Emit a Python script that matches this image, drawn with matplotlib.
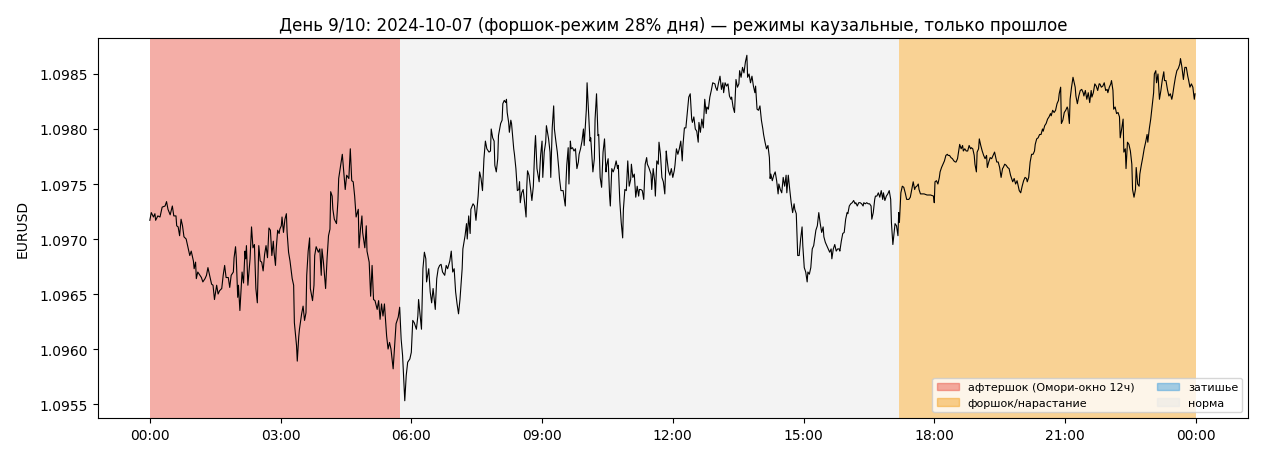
import numpy as np
import pandas as pd
import matplotlib
matplotlib.use("Agg")
import matplotlib.pyplot as plt
import matplotlib.dates as mdates
from matplotlib.patches import Patch

# день и минутные котировки (минуты от полуночи, цена)
day = "2024-10-07"
minute = [
    0, 2, 5, 7, 8, 11, 14, 17, 21, 23, 25, 28, 31, 33, 36, 37, 39, 41, 43, 45,
    47, 50, 53, 55, 57, 60, 61, 63, 64, 66, 69, 71, 73, 76, 78, 80, 83, 85, 87, 89,
    92, 94, 96, 99, 101, 103, 105, 108, 110, 112, 115, 116, 118, 119, 121, 122, 124, 126, 127, 129,
    131, 132, 133, 135, 138, 140, 142, 144, 146, 148, 149, 150, 152, 154, 156, 158, 160, 162, 164, 166,
    168, 170, 171, 173, 174, 176, 178, 179, 181, 182, 184, 186, 188, 189, 191, 193, 196, 198, 199, 202,
    203, 205, 206, 209, 211, 213, 215, 216, 218, 220, 221, 224, 226, 227, 229, 232, 234, 236, 237, 239,
    242, 244, 246, 248, 249, 251, 252, 254, 257, 259, 260, 262, 265, 267, 269, 271, 274, 276, 278, 280,
    282, 284, 287, 288, 290, 292, 293, 296, 298, 299, 302, 304, 306, 308, 310, 313, 315, 317, 319, 321,
    323, 326, 328, 330, 332, 335, 337, 339, 342, 344, 346, 348, 351, 353, 355, 358, 360, 362, 364, 367,
    369, 370,
    374, 376, 378, 380, 381, 384, 386, 388, 390, 393, 395, 397, 399, 401, 403, 406, 408, 410, 413, 415,
    417, 419, 421, 423, 425, 427, 430, 431, 434, 436, 437, 439, 441, 442, 445, 447, 449, 452, 454, 456,
    458, 460, 462, 464, 467, 469, 470, 472, 474, 475, 477, 479, 480, 483, 485, 486, 488, 490, 491, 492,
    494, 495, 497, 498, 501, 502, 504, 506, 508, 509, 510, 512, 514, 516, 518, 519, 520, 522, 524, 526,
    528, 530, 531, 533, 535, 536, 538, 540, 541, 543, 545, 546, 549, 551, 552, 554, 556, 557, 559, 561,
    563, 564, 566, 569, 570, 572, 573, 574, 576, 577, 579, 580, 582, 584, 586, 588, 590, 591, 593, 595,
    597, 598, 601, 602, 604, 606, 607, 610, 612, 613, 615, 617, 618, 620, 622, 624, 626, 628, 629, 631,
    633, 634, 636, 638, 640, 642, 644, 645, 647, 649, 651, 652, 654, 656, 658, 660, 662, 663, 665, 667,
    669, 671, 673, 674, 676, 678, 680, 682, 684, 685, 687, 690, 691, 693, 695, 696, 698, 700, 701, 703,
    705, 707, 709, 711, 712, 714, 716, 718, 720, 722, 723, 725, 727, 729, 731, 733, 734, 736, 738, 740,
    742,
    744, 746, 747, 749, 751, 753, 755, 756, 758, 760, 762, 764, 766, 767, 769, 771, 773, 775, 778, 779,
    781, 783, 785, 787, 789, 790, 792, 794, 796, 798, 800, 801, 803, 805, 807, 809, 811, 812, 814, 816,
    818, 820, 822, 823, 825, 827, 829, 831, 833, 834, 836, 838, 840, 842, 844, 845, 847, 849, 851, 853,
    854, 855, 857, 859, 861, 863, 865, 866, 868, 870, 872, 874, 876, 877, 879, 881, 883, 885, 887, 888,
    890, 892, 894, 896, 898, 899, 901, 903, 905, 906, 908, 910, 912, 914, 916, 917, 919, 921, 923, 925,
    927, 928, 930, 932, 934, 936, 938, 939, 941, 943, 945, 947, 949, 950, 952, 954, 956, 958, 960, 961,
    963, 965, 967, 969, 971, 972, 974, 976, 978, 980, 982, 983, 985, 987, 989, 991, 993, 994, 996, 998,
    999, 1001, 1003, 1005, 1007, 1009, 1010, 1012, 1014, 1016, 1018, 1020, 1021, 1023, 1025, 1026, 1028, 1030, 1031, 1032,
    1034, 1036, 1038, 1040, 1042, 1043, 1045, 1047, 1049, 1051, 1053, 1054, 1056, 1058,
    1059, 1061, 1066, 1070, 1075, 1079, 1080, 1081, 1083, 1085, 1087, 1088, 1090, 1092, 1094, 1096, 1098, 1099, 1101, 1103,
    1105, 1107, 1109, 1110, 1112, 1114, 1115, 1117, 1119, 1120, 1122, 1124, 1126, 1128, 1130, 1131, 1133, 1135, 1136, 1138,
    1139, 1141, 1142, 1144, 1146, 1148, 1150, 1152, 1153, 1155, 1157, 1159, 1161, 1163, 1164, 1166, 1168, 1170, 1172, 1174,
    1175, 1177, 1179, 1181, 1183, 1185, 1186, 1188, 1190, 1192, 1194, 1196, 1197, 1199, 1201, 1203, 1205, 1207, 1208, 1210,
    1212, 1214, 1216, 1218, 1219, 1221, 1223, 1225, 1227, 1229, 1230, 1232, 1234, 1236, 1238, 1240, 1241, 1243, 1245, 1247,
    1249, 1251, 1252, 1254, 1255, 1257, 1259, 1261, 1263, 1264, 1266, 1267, 1269, 1271, 1272, 1274, 1275, 1277, 1279, 1281,
    1283, 1285, 1286, 1288, 1290, 1292, 1294, 1296, 1297, 1299, 1301, 1303, 1305, 1307, 1308, 1310, 1312, 1314, 1316, 1318,
    1319, 1321, 1323, 1324, 1326, 1327, 1329, 1331, 1333, 1335, 1336, 1338, 1340, 1341, 1343, 1344, 1346, 1348, 1350, 1352,
    1353, 1355, 1357, 1358, 1360, 1362, 1363, 1365, 1367, 1369, 1371, 1373, 1374, 1376, 1378, 1380, 1382, 1383, 1385, 1386,
    1388, 1390, 1392, 1394, 1396, 1397, 1399, 1401, 1403, 1405, 1407, 1408, 1410, 1412, 1414, 1416, 1418, 1419, 1421, 1423,
    1425, 1427, 1429, 1430, 1432, 1434, 1436, 1438, 1439,
]
eurusd = [
    1.09717, 1.09724, 1.09720, 1.09723, 1.09717, 1.09721, 1.09720, 1.09729, 1.09730, 1.09734,
    1.09727, 1.09722, 1.09730, 1.09721, 1.09721, 1.09712, 1.09711, 1.09703, 1.09718, 1.09712,
    1.09702, 1.09700, 1.09691, 1.09685, 1.09689, 1.09680, 1.09673, 1.09679, 1.09664, 1.09670,
    1.09667, 1.09665, 1.09661, 1.09664, 1.09667, 1.09674, 1.09665, 1.09659, 1.09658, 1.09645,
    1.09658, 1.09650, 1.09653, 1.09655, 1.09667, 1.09676, 1.09665, 1.09665, 1.09656, 1.09667,
    1.09670, 1.09683, 1.09693, 1.09683, 1.09647, 1.09658, 1.09635, 1.09658, 1.09670, 1.09660,
    1.09689, 1.09682, 1.09694, 1.09658, 1.09682, 1.09711, 1.09692, 1.09695, 1.09655, 1.09642,
    1.09667, 1.09694, 1.09680, 1.09679, 1.09671, 1.09686, 1.09694, 1.09683, 1.09710, 1.09708,
    1.09685, 1.09698, 1.09688, 1.09676, 1.09691, 1.09708, 1.09705, 1.09709, 1.09712, 1.09720,
    1.09706, 1.09718, 1.09723, 1.09706, 1.09688, 1.09680, 1.09664, 1.09658, 1.09624, 1.09603,
    1.09589, 1.09611, 1.09618, 1.09632, 1.09639, 1.09626, 1.09633, 1.09667, 1.09689, 1.09701,
    1.09655, 1.09644, 1.09658, 1.09685, 1.09693, 1.09688, 1.09691, 1.09667, 1.09691, 1.09679,
    1.09655, 1.09682, 1.09703, 1.09709, 1.09743, 1.09739, 1.09727, 1.09718, 1.09714, 1.09735,
    1.09755, 1.09764, 1.09777, 1.09761, 1.09745, 1.09758, 1.09755, 1.09782, 1.09753, 1.09752,
    1.09739, 1.09720, 1.09727, 1.09692, 1.09709, 1.09721, 1.09706, 1.09692, 1.09712, 1.09689,
    1.09679, 1.09648, 1.09676, 1.09645, 1.09644, 1.09636, 1.09644, 1.09627, 1.09641, 1.09630,
    1.09641, 1.09612, 1.09600, 1.09606, 1.09600, 1.09582, 1.09603, 1.09623, 1.09629, 1.09638,
    1.09609, 1.09594, 1.09553, 1.09576, 1.09588, 1.09591, 1.09597, 1.09626, 1.09624, 1.09618,
    1.09630, 1.09645,
    1.09618, 1.09673, 1.09688, 1.09682, 1.09661, 1.09673, 1.09652, 1.09642, 1.09655, 1.09636,
    1.09664, 1.09673, 1.09676, 1.09677, 1.09670, 1.09667, 1.09676, 1.09673, 1.09680, 1.09689,
    1.09670, 1.09673, 1.09652, 1.09641, 1.09632, 1.09645, 1.09673, 1.09691, 1.09703, 1.09714,
    1.09700, 1.09721, 1.09705, 1.09727, 1.09732, 1.09730, 1.09717, 1.09739, 1.09761, 1.09755,
    1.09744, 1.09773, 1.09789, 1.09782, 1.09779, 1.09780, 1.09800, 1.09792, 1.09789, 1.09767,
    1.09761, 1.09773, 1.09794, 1.09805, 1.09808, 1.09823, 1.09826, 1.09824, 1.09827, 1.09815,
    1.09806, 1.09797, 1.09808, 1.09805, 1.09782, 1.09777, 1.09764, 1.09744, 1.09745, 1.09752,
    1.09733, 1.09742, 1.09745, 1.09733, 1.09720, 1.09748, 1.09762, 1.09758, 1.09747, 1.09735,
    1.09748, 1.09783, 1.09794, 1.09764, 1.09756, 1.09752, 1.09776, 1.09789, 1.09756, 1.09779,
    1.09788, 1.09803, 1.09791, 1.09779, 1.09756, 1.09801, 1.09821, 1.09800, 1.09789, 1.09779,
    1.09764, 1.09755, 1.09744, 1.09744, 1.09739, 1.09730, 1.09752, 1.09767, 1.09783, 1.09750,
    1.09789, 1.09782, 1.09783, 1.09780, 1.09782, 1.09764, 1.09770, 1.09777, 1.09782, 1.09789,
    1.09800, 1.09785, 1.09818, 1.09842, 1.09815, 1.09789, 1.09792, 1.09761, 1.09773, 1.09809,
    1.09832, 1.09794, 1.09795, 1.09756, 1.09747, 1.09779, 1.09791, 1.09761, 1.09767, 1.09773,
    1.09739, 1.09730, 1.09764, 1.09761, 1.09765, 1.09771, 1.09764, 1.09767, 1.09735, 1.09715,
    1.09701, 1.09727, 1.09745, 1.09744, 1.09771, 1.09748, 1.09754, 1.09768, 1.09756, 1.09759,
    1.09738, 1.09748, 1.09739, 1.09745, 1.09745, 1.09744, 1.09736, 1.09768, 1.09774, 1.09768,
    1.09765, 1.09759, 1.09745, 1.09764, 1.09753, 1.09739, 1.09771, 1.09768, 1.09788, 1.09777,
    1.09756, 1.09752, 1.09741, 1.09780, 1.09773, 1.09762, 1.09758, 1.09764, 1.09756, 1.09762,
    1.09767, 1.09782, 1.09777, 1.09782, 1.09789, 1.09771, 1.09785, 1.09801, 1.09801, 1.09815,
    1.09829,
    1.09832, 1.09809, 1.09806, 1.09811, 1.09800, 1.09798, 1.09788, 1.09806, 1.09797, 1.09809,
    1.09801, 1.09827, 1.09814, 1.09820, 1.09818, 1.09829, 1.09835, 1.09842, 1.09841, 1.09838,
    1.09835, 1.09842, 1.09848, 1.09836, 1.09842, 1.09833, 1.09842, 1.09839, 1.09841, 1.09830,
    1.09827, 1.09829, 1.09820, 1.09815, 1.09845, 1.09838, 1.09841, 1.09853, 1.09847, 1.09856,
    1.09851, 1.09861, 1.09867, 1.09847, 1.09850, 1.09842, 1.09848, 1.09839, 1.09833, 1.09839,
    1.09818, 1.09817, 1.09821, 1.09808, 1.09800, 1.09795, 1.09788, 1.09782, 1.09785, 1.09774,
    1.09755, 1.09759, 1.09753, 1.09758, 1.09761, 1.09753, 1.09741, 1.09750, 1.09745, 1.09742,
    1.09756, 1.09748, 1.09758, 1.09742, 1.09758, 1.09745, 1.09733, 1.09724, 1.09732, 1.09727,
    1.09723, 1.09685, 1.09685, 1.09700, 1.09711, 1.09694, 1.09674, 1.09670, 1.09661, 1.09670,
    1.09668, 1.09674, 1.09691, 1.09694, 1.09703, 1.09708, 1.09712, 1.09724, 1.09714, 1.09706,
    1.09711, 1.09702, 1.09697, 1.09694, 1.09691, 1.09688, 1.09691, 1.09682, 1.09691, 1.09695,
    1.09689, 1.09691, 1.09691, 1.09689, 1.09698, 1.09705, 1.09706, 1.09718, 1.09724, 1.09723,
    1.09730, 1.09732, 1.09733, 1.09735, 1.09732, 1.09733, 1.09730, 1.09733, 1.09733, 1.09732,
    1.09730, 1.09733, 1.09732, 1.09733, 1.09732, 1.09732, 1.09730, 1.09718, 1.09724, 1.09736,
    1.09739, 1.09739, 1.09742, 1.09738, 1.09744, 1.09736, 1.09742, 1.09735, 1.09739, 1.09741,
    1.09744, 1.09736, 1.09715, 1.09695, 1.09708, 1.09714, 1.09712, 1.09703, 1.09724, 1.09715,
    1.09742, 1.09748, 1.09747, 1.09742, 1.09736, 1.09736, 1.09736, 1.09738, 1.09745, 1.09752,
    1.09745, 1.09747, 1.09748, 1.09750,
    1.09745, 1.09741, 1.09741, 1.09740, 1.09740, 1.09739, 1.09733, 1.09752, 1.09753, 1.09750,
    1.09756, 1.09761, 1.09765, 1.09768, 1.09771, 1.09776, 1.09777, 1.09776, 1.09776, 1.09774,
    1.09773, 1.09771, 1.09770, 1.09770, 1.09773, 1.09782, 1.09786, 1.09782, 1.09785, 1.09780,
    1.09782, 1.09780, 1.09780, 1.09785, 1.09782, 1.09783, 1.09782, 1.09776, 1.09768, 1.09761,
    1.09779, 1.09782, 1.09791, 1.09785, 1.09780, 1.09776, 1.09773, 1.09776, 1.09765, 1.09770,
    1.09774, 1.09773, 1.09776, 1.09779, 1.09776, 1.09770, 1.09770, 1.09765, 1.09756, 1.09764,
    1.09765, 1.09768, 1.09767, 1.09765, 1.09764, 1.09758, 1.09756, 1.09752, 1.09755, 1.09750,
    1.09753, 1.09747, 1.09744, 1.09742, 1.09748, 1.09753, 1.09756, 1.09755, 1.09752, 1.09756,
    1.09770, 1.09777, 1.09777, 1.09780, 1.09786, 1.09791, 1.09792, 1.09795, 1.09795, 1.09800,
    1.09798, 1.09803, 1.09805, 1.09809, 1.09811, 1.09814, 1.09812, 1.09817, 1.09815, 1.09817,
    1.09823, 1.09826, 1.09832, 1.09838, 1.09805, 1.09808, 1.09815, 1.09817, 1.09820, 1.09818,
    1.09805, 1.09827, 1.09838, 1.09847, 1.09844, 1.09838, 1.09830, 1.09823, 1.09830, 1.09835,
    1.09836, 1.09833, 1.09830, 1.09835, 1.09827, 1.09833, 1.09824, 1.09835, 1.09829, 1.09833,
    1.09841, 1.09839, 1.09835, 1.09841, 1.09841, 1.09838, 1.09839, 1.09842, 1.09835, 1.09836,
    1.09833, 1.09838, 1.09841, 1.09844, 1.09835, 1.09818, 1.09820, 1.09814, 1.09815, 1.09811,
    1.09792, 1.09800, 1.09809, 1.09779, 1.09782, 1.09764, 1.09788, 1.09786, 1.09780, 1.09768,
    1.09745, 1.09738, 1.09745, 1.09765, 1.09750, 1.09748, 1.09759, 1.09767, 1.09774, 1.09782,
    1.09788, 1.09795, 1.09788, 1.09800, 1.09809, 1.09821, 1.09833, 1.09850, 1.09853, 1.09842,
    1.09850, 1.09827, 1.09835, 1.09845, 1.09852, 1.09844, 1.09844, 1.09836, 1.09830, 1.09832,
    1.09827, 1.09830, 1.09839, 1.09847, 1.09853, 1.09855, 1.09859, 1.09864, 1.09856, 1.09845,
    1.09856, 1.09856, 1.09848, 1.09845, 1.09838, 1.09841, 1.09838, 1.09827, 1.09832,
]

# режимы: названия, цвета и интервалы (минуты от полуночи)
regime_names = ["афтершок (Омори-окно 12ч)", "форшок/нарастание", "затишье", "норма"]
regime_colors = ["#e74c3c", "#f39c12", "#3498db", "#e6e6e6"]
span_start = [0, 344, 1031]
span_end = [344, 1031, 1440]
span_regime = [0, 3, 1]

t0 = pd.Timestamp(day)
t = t0 + pd.to_timedelta(minute, unit="min")

fig = plt.figure(figsize=(12.65, 4.6), dpi=100)
ax = fig.add_axes([0.0771, 0.0891, 0.9095, 0.8261])

# фон по режимам
for s, e, r in zip(span_start, span_end, span_regime):
    ax.axvspan(t0 + pd.Timedelta(minutes=s), t0 + pd.Timedelta(minutes=e),
               color=regime_colors[r], alpha=0.45, lw=0)

ax.plot(t, eurusd, color="black", lw=0.8)

handles = [Patch(facecolor=c, edgecolor=c, alpha=0.45, label=n)
           for n, c in zip(regime_names, regime_colors)]
ax.legend(handles=handles, loc="lower right", ncol=2, fontsize=8)

ax.xaxis.set_major_locator(mdates.HourLocator(byhour=range(0, 24, 3)))
ax.xaxis.set_major_formatter(mdates.DateFormatter("%H:%M"))
ax.set_ylabel("EURUSD", labelpad=7)
ax.set_title("День 9/10: 2024-10-07 (форшок-режим 28% дня) — режимы каузальные, только прошлое")

fig.savefig("out.png", dpi=100)
